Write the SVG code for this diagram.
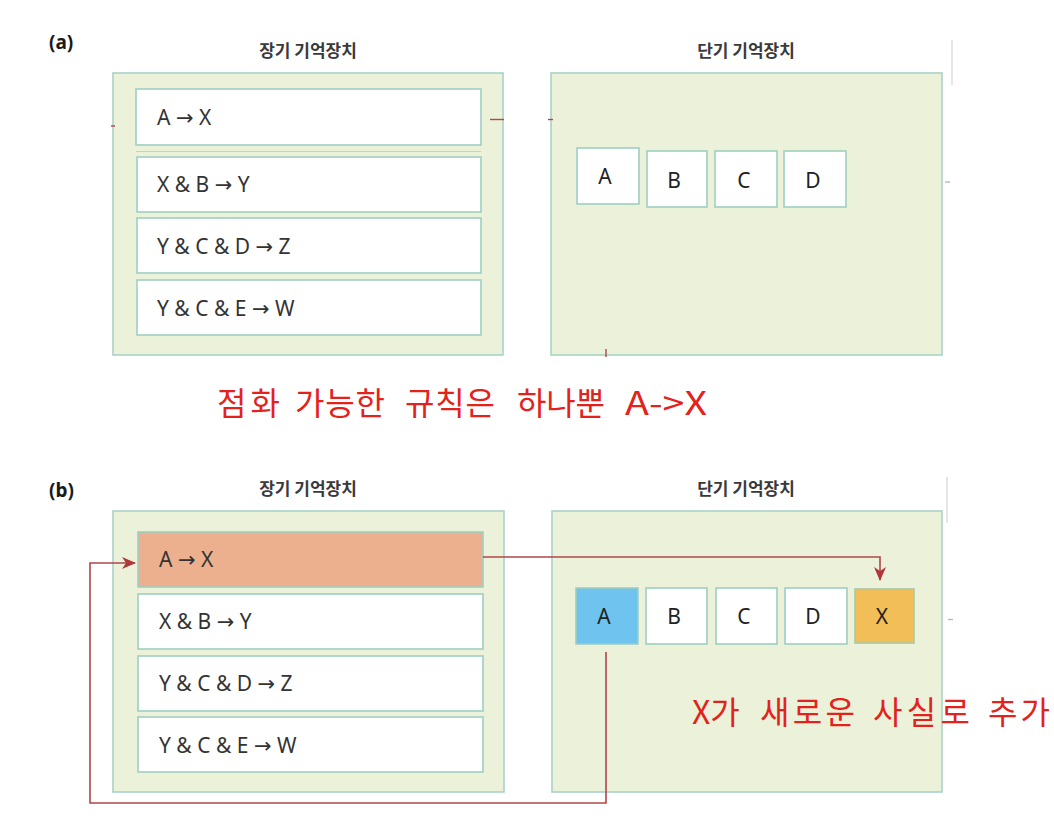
<svg xmlns="http://www.w3.org/2000/svg" width="1054" height="818" viewBox="0 0 1054 818">
<defs>
<style>
.panel{fill:#ECF2D9;stroke:#A9D3C8;stroke-width:1.6}
.rule{fill:#FFFFFF;stroke:#9ECFC2;stroke-width:1.6}
.fire{fill:#EDB08E;stroke:#9ECFC2;stroke-width:1.6}
.cell{fill:#FFFFFF;stroke:#9ECFC2;stroke-width:1.6}
.cellA{fill:#6EC4EE;stroke:#9ECFC2;stroke-width:1.6}
.cellX{fill:#F1BE58;stroke:#A9C9A8;stroke-width:1.6}
.title{font-family:"Noto Sans CJK KR","Noto Sans",sans-serif;font-size:17px;font-weight:700;fill:#3A3A3A;text-anchor:middle}
.tag{font-family:"Noto Sans","Liberation Sans",sans-serif;font-size:19px;font-weight:700;fill:#1A1A1A}
.rt{font-family:"Noto Sans","DejaVu Sans",sans-serif;font-size:21px;fill:#333333}
.ar{font-family:"DejaVu Sans",sans-serif}
.ct{font-family:"Noto Sans","Liberation Sans",sans-serif;font-size:21px;fill:#222222;text-anchor:middle}
.note{font-family:"Noto Sans CJK KR","Noto Sans",sans-serif;font-size:32px;fill:#E3221B}
.conn{fill:none;stroke:#B0474A;stroke-width:1.6}
.tickr{stroke:#B0474A;stroke-width:1.4}
.tickg{stroke:#B8B8B8;stroke-width:1.4}
</style>
<marker id="ah" viewBox="0 0 14 12" refX="13" refY="6" markerWidth="14" markerHeight="12" markerUnits="userSpaceOnUse" orient="auto">
<path d="M0,0 L14,6 L0,12 L4,6 Z" fill="#B0373A"/>
</marker>
</defs>
<rect width="1054" height="818" fill="#FFFFFF"/>

<!-- Panel (a) -->
<text class="tag" x="49" y="49">(a)</text>
<text class="title" x="308" y="57">장기 기억장치</text>
<text class="title" x="746" y="57">단기 기억장치</text>

<g id="a-ltm">
<rect class="panel" x="113" y="73" width="390" height="282"/>
</g>
<g id="a-rule1"><rect class="rule" x="136" y="89" width="345" height="56"/><text class="rt" x="157" y="125">A <tspan class="ar">→</tspan> X</text></g>
<line x1="136" y1="151.5" x2="481" y2="151.5" stroke="#B6D6CC" stroke-width="1"/>
<g id="a-rule2"><rect class="rule" x="137" y="157" width="344" height="55"/><text class="rt" x="157" y="192">X &amp; B <tspan class="ar">→</tspan> Y</text></g>
<g id="a-rule3"><rect class="rule" x="137" y="218" width="344" height="55"/><text class="rt" x="157" y="254">Y &amp; C &amp; D <tspan class="ar">→</tspan> Z</text></g>
<g id="a-rule4"><rect class="rule" x="137" y="280" width="344" height="55"/><text class="rt" x="157" y="316">Y &amp; C &amp; E <tspan class="ar">→</tspan> W</text></g>

<g id="a-stm">
<rect class="panel" x="551" y="73" width="391" height="282"/>
</g>
<g id="a-cellA"><rect class="cell" x="577" y="148" width="62" height="56"/><text class="ct" x="605" y="184">A</text></g>
<g id="a-cellB"><rect class="cell" x="647" y="151" width="60" height="56"/><text class="ct" x="674" y="188">B</text></g>
<g id="a-cellC"><rect class="cell" x="715" y="151" width="62" height="56"/><text class="ct" x="744" y="188">C</text></g>
<g id="a-cellD"><rect class="cell" x="784" y="151" width="62" height="56"/><text class="ct" x="813" y="188">D</text></g>

<g id="a-ticks">
<line class="tickr" x1="111" y1="126" x2="115" y2="126"/>
<line class="tickr" x1="490" y1="119.5" x2="504" y2="119.5"/>
<line class="tickr" x1="548" y1="119.5" x2="553" y2="119.5"/>
<line class="tickr" x1="606" y1="349" x2="606" y2="357"/>
<line class="tickg" x1="945" y1="182" x2="950" y2="182"/>
<line stroke="#DCDCDC" stroke-width="1.4" x1="952" y1="40" x2="952" y2="85"/>
</g>

<text class="note" y="415"><tspan x="217" textLength="63" lengthAdjust="spacing">점화</tspan> <tspan x="295" textLength="90" lengthAdjust="spacing">가능한</tspan> <tspan x="405" textLength="90" lengthAdjust="spacing">규칙은</tspan> <tspan x="517" textLength="88" lengthAdjust="spacing">하나뿐</tspan> <tspan x="625" textLength="82" lengthAdjust="spacingAndGlyphs">A-&gt;X</tspan></text>

<!-- Panel (b) -->
<text class="tag" x="49" y="497">(b)</text>
<text class="title" x="308" y="495">장기 기억장치</text>
<text class="title" x="746" y="495">단기 기억장치</text>

<g id="b-ltm">
<rect class="panel" x="113" y="511" width="391" height="281"/>
</g>
<g id="b-rule1"><rect class="fire" x="138" y="532" width="345" height="55"/><text class="rt" x="159" y="567">A <tspan class="ar">→</tspan> X</text></g>
<g id="b-rule2"><rect class="rule" x="138" y="594" width="345" height="55"/><text class="rt" x="159" y="629">X &amp; B <tspan class="ar">→</tspan> Y</text></g>
<g id="b-rule3"><rect class="rule" x="138" y="656" width="345" height="55"/><text class="rt" x="159" y="691">Y &amp; C &amp; D <tspan class="ar">→</tspan> Z</text></g>
<g id="b-rule4"><rect class="rule" x="138" y="717" width="345" height="55"/><text class="rt" x="159" y="753">Y &amp; C &amp; E <tspan class="ar">→</tspan> W</text></g>

<g id="b-stm">
<rect class="panel" x="552" y="511" width="390" height="281"/>
</g>
<g id="b-cellA"><rect class="cellA" x="576" y="588" width="62" height="56"/><text class="ct" x="604" y="624">A</text></g>
<g id="b-cellB"><rect class="cell" x="646" y="588" width="61" height="56"/><text class="ct" x="674" y="624">B</text></g>
<g id="b-cellC"><rect class="cell" x="716" y="588" width="61" height="56"/><text class="ct" x="744" y="624">C</text></g>
<g id="b-cellD"><rect class="cell" x="785" y="588" width="62" height="56"/><text class="ct" x="813" y="624">D</text></g>
<g id="b-cellX"><rect class="cellX" x="855" y="589" width="59" height="54"/><text class="ct" x="882" y="624">X</text></g>

<g id="connectors">
<path class="conn" d="M483,557 H880 V580" marker-end="url(#ah)"/>
<path class="conn" d="M606,652 V803 H90 V563 H135" marker-end="url(#ah)"/>
</g>

<g id="b-ticks">
<line class="tickg" x1="948" y1="619.5" x2="953" y2="619.5"/>
<line stroke="#DCDCDC" stroke-width="1.4" x1="947" y1="477" x2="947" y2="523"/>
</g>

<text class="note" y="724"><tspan x="692">X가</tspan> <tspan x="760" textLength="95" lengthAdjust="spacing">새로운</tspan> <tspan x="873" textLength="97" lengthAdjust="spacing">사실로</tspan> <tspan x="988" textLength="62" lengthAdjust="spacing">추가</tspan></text>
</svg>
